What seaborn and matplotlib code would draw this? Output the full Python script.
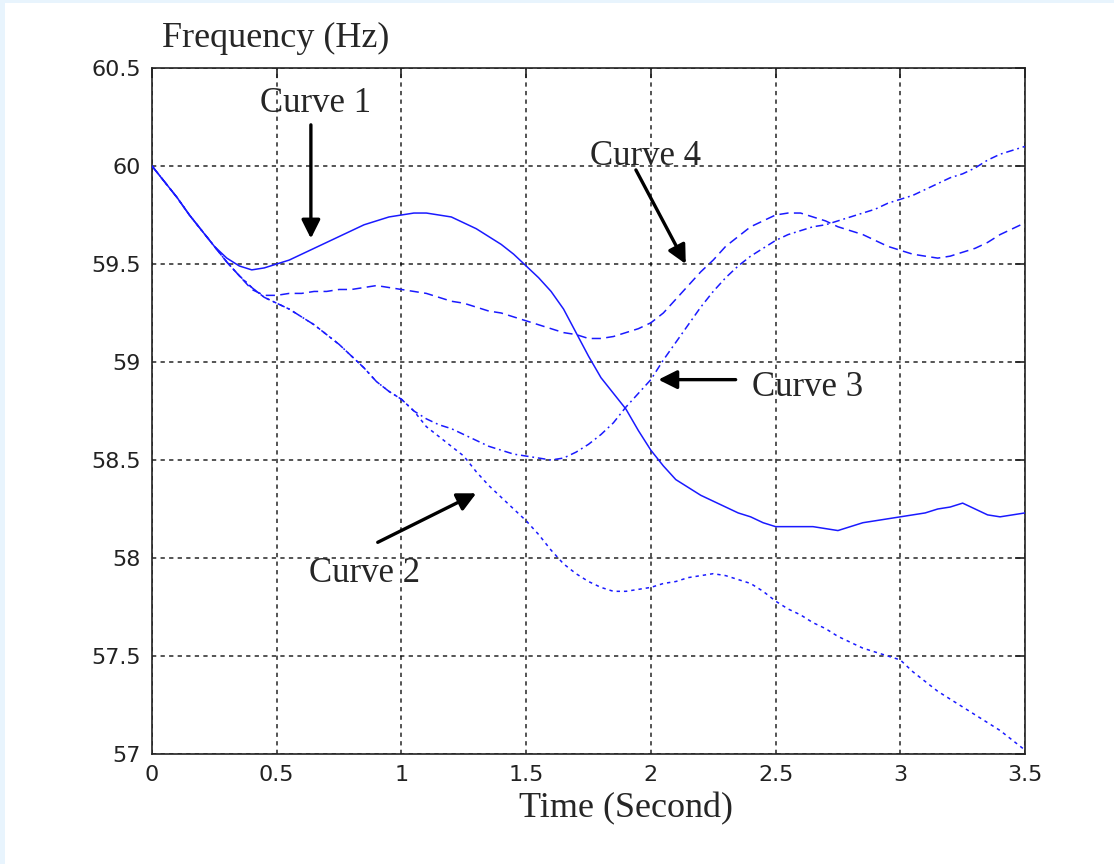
import numpy as np
import pandas as pd
import matplotlib
matplotlib.use("Agg")
import matplotlib.pyplot as plt
import seaborn as sns

# Time samples (s)
time_s = [0.00, 0.05, 0.10, 0.15, 0.20, 0.25, 0.30, 0.35, 0.40, 0.45,
          0.50, 0.55, 0.60, 0.65, 0.70, 0.75, 0.80, 0.85, 0.90, 0.95,
          1.00, 1.05, 1.10, 1.15, 1.20, 1.25, 1.30, 1.35, 1.40, 1.45,
          1.50, 1.55, 1.60, 1.65, 1.70, 1.75, 1.80, 1.85, 1.90, 1.95,
          2.00, 2.05, 2.10, 2.15, 2.20, 2.25, 2.30, 2.35, 2.40, 2.45,
          2.50, 2.55, 2.60, 2.65, 2.70, 2.75, 2.80, 2.85, 2.90, 2.95,
          3.00, 3.05, 3.10, 3.15, 3.20, 3.25, 3.30, 3.35, 3.40, 3.45,
          3.50]

# Frequency responses (Hz)
curve1 = [60.00, 59.92, 59.84, 59.75, 59.67, 59.59, 59.53, 59.49, 59.47, 59.48,
          59.50, 59.52, 59.55, 59.58, 59.61, 59.64, 59.67, 59.70, 59.72, 59.74,
          59.75, 59.76, 59.76, 59.75, 59.74, 59.71, 59.68, 59.64, 59.60, 59.55,
          59.49, 59.43, 59.36, 59.27, 59.15, 59.03, 58.92, 58.84, 58.76, 58.65,
          58.55, 58.47, 58.40, 58.36, 58.32, 58.29, 58.26, 58.23, 58.21, 58.18,
          58.16, 58.16, 58.16, 58.16, 58.15, 58.14, 58.16, 58.18, 58.19, 58.20,
          58.21, 58.22, 58.23, 58.25, 58.26, 58.28, 58.25, 58.22, 58.21, 58.22,
          58.23]
curve2 = [60.00, 59.92, 59.84, 59.75, 59.67, 59.59, 59.51, 59.44, 59.38, 59.33,
          59.30, 59.27, 59.23, 59.19, 59.14, 59.09, 59.03, 58.97, 58.90, 58.85,
          58.81, 58.75, 58.67, 58.62, 58.57, 58.52, 58.44, 58.37, 58.31, 58.25,
          58.19, 58.12, 58.04, 57.97, 57.92, 57.88, 57.85, 57.83, 57.83, 57.84,
          57.85, 57.87, 57.88, 57.90, 57.91, 57.92, 57.91, 57.89, 57.87, 57.83,
          57.78, 57.74, 57.71, 57.67, 57.64, 57.60, 57.57, 57.54, 57.52, 57.50,
          57.48, 57.42, 57.37, 57.32, 57.28, 57.24, 57.20, 57.16, 57.12, 57.07,
          57.02]
curve3 = [60.00, 59.92, 59.84, 59.75, 59.67, 59.59, 59.51, 59.44, 59.38, 59.33,
          59.30, 59.27, 59.23, 59.19, 59.14, 59.09, 59.03, 58.97, 58.90, 58.85,
          58.81, 58.75, 58.71, 58.68, 58.66, 58.63, 58.60, 58.57, 58.55, 58.53,
          58.52, 58.51, 58.50, 58.51, 58.54, 58.58, 58.63, 58.69, 58.77, 58.84,
          58.91, 59.01, 59.10, 59.19, 59.28, 59.36, 59.43, 59.49, 59.54, 59.58,
          59.62, 59.65, 59.67, 59.69, 59.70, 59.72, 59.74, 59.76, 59.78, 59.81,
          59.83, 59.85, 59.88, 59.91, 59.94, 59.96, 59.99, 60.03, 60.06, 60.08,
          60.10]
curve4 = [60.00, 59.92, 59.84, 59.75, 59.67, 59.59, 59.51, 59.44, 59.37, 59.34,
          59.34, 59.35, 59.35, 59.36, 59.36, 59.37, 59.37, 59.38, 59.39, 59.38,
          59.37, 59.36, 59.35, 59.33, 59.31, 59.30, 59.28, 59.26, 59.25, 59.23,
          59.21, 59.19, 59.17, 59.15, 59.14, 59.12, 59.12, 59.13, 59.15, 59.17,
          59.20, 59.25, 59.32, 59.39, 59.46, 59.52, 59.59, 59.64, 59.69, 59.72,
          59.75, 59.76, 59.76, 59.74, 59.72, 59.69, 59.67, 59.65, 59.62, 59.59,
          59.57, 59.55, 59.54, 59.53, 59.54, 59.56, 59.58, 59.61, 59.65, 59.68,
          59.71]

x_ticks = [0, 0.5, 1, 1.5, 2, 2.5, 3, 3.5]
x_tick_labels = ["0", "0.5", "1", "1.5", "2", "2.5", "3", "3.5"]
y_ticks = [57, 57.5, 58, 58.5, 59, 59.5, 60, 60.5]
y_tick_labels = ["57", "57.5", "58", "58.5", "59", "59.5", "60", "60.5"]

labels = ["Curve 1", "Curve 2", "Curve 3", "Curve 4"]
styles = ["-", ":", "-.", "--"]

sns.set_style("white")
plt.rcParams["font.family"] = ["DejaVu Sans"]

W, H = 1114, 864
fig = plt.figure(figsize=(W / 100, H / 100), dpi=100)
fig.patch.set_facecolor("#E8F4FD")
fig.add_artist(plt.Rectangle((5 / W, 0), 1, 1 - 3 / H, transform=fig.transFigure,
                             facecolor="white", edgecolor="none", zorder=0))

ax = fig.add_axes([152 / W, 1 - 754 / H, (1025 - 152) / W, (754 - 68) / H])
ax.set_facecolor("white")

df = pd.DataFrame({"t": time_s, "Curve 1": curve1, "Curve 2": curve2,
                   "Curve 3": curve3, "Curve 4": curve4})

dash_map = {":": (0, (2.2, 2.6)), "-.": (0, (5, 2.5, 1.2, 2.5)),
            "--": (0, (6, 3.5))}
for name, ls in zip(labels, styles):
    kw = dict(x="t", y=name, data=df, ax=ax, color="#1a1aff", linewidth=1.1,
              estimator=None, sort=False, zorder=3)
    if ls == "-":
        sns.lineplot(**kw)
    else:
        sns.lineplot(**kw, linestyle=dash_map[ls])

ax.set_xlim(0, 3.5)
ax.set_ylim(57, 60.5)
ax.set_xticks(x_ticks)
ax.set_xticklabels(x_tick_labels)
ax.set_yticks(y_ticks)
ax.set_yticklabels(y_tick_labels)
ax.set_xlabel("")
ax.set_ylabel("")

ax.grid(True, color="black", linestyle=(0, (2.8, 2.8)), linewidth=1.1, alpha=0.85)
ax.set_axisbelow(True)
for s in ax.spines.values():
    s.set_visible(True)
    s.set_color("#222222")
    s.set_linewidth(1.2)
ax.tick_params(direction="in", length=7, width=1.2, color="#222222",
               top=True, right=True, labelsize=16, labelcolor="#222222", pad=8)

serif = ["Liberation Serif", "DejaVu Serif"]
fig.text(162 / W, 1 - 47 / H, "Frequency (Hz)", family=serif, fontsize=26,
         ha="left", va="baseline")
fig.text(626 / W, 1 - 817 / H, "Time (Second)", family=serif, fontsize=26,
         ha="center", va="baseline")

arrow = dict(arrowstyle="-|>", color="black", lw=2.4, mutation_scale=28,
             shrinkA=0, shrinkB=0)
# (label text position, arrow tail, arrow tip) in data coordinates
notes = [
    ("Curve 1", (0.654, 60.32), (0.637, 60.21), (0.637, 59.63)),
    ("Curve 4", (1.98, 60.05), (1.94, 59.98), (2.14, 59.50)),
    ("Curve 3", (2.63, 58.87), (2.34, 58.91), (2.03, 58.91)),
    ("Curve 2", (0.85, 57.92), (0.905, 58.08), (1.30, 58.33)),
]
for text, tpos, tail, tip in notes:
    ax.text(*tpos, text, family=serif, fontsize=25, ha="center", va="center",
            zorder=5)
    ax.annotate("", xy=tip, xytext=tail, arrowprops=arrow, zorder=5)

fig.savefig("out.png", dpi=100, facecolor=fig.get_facecolor())
